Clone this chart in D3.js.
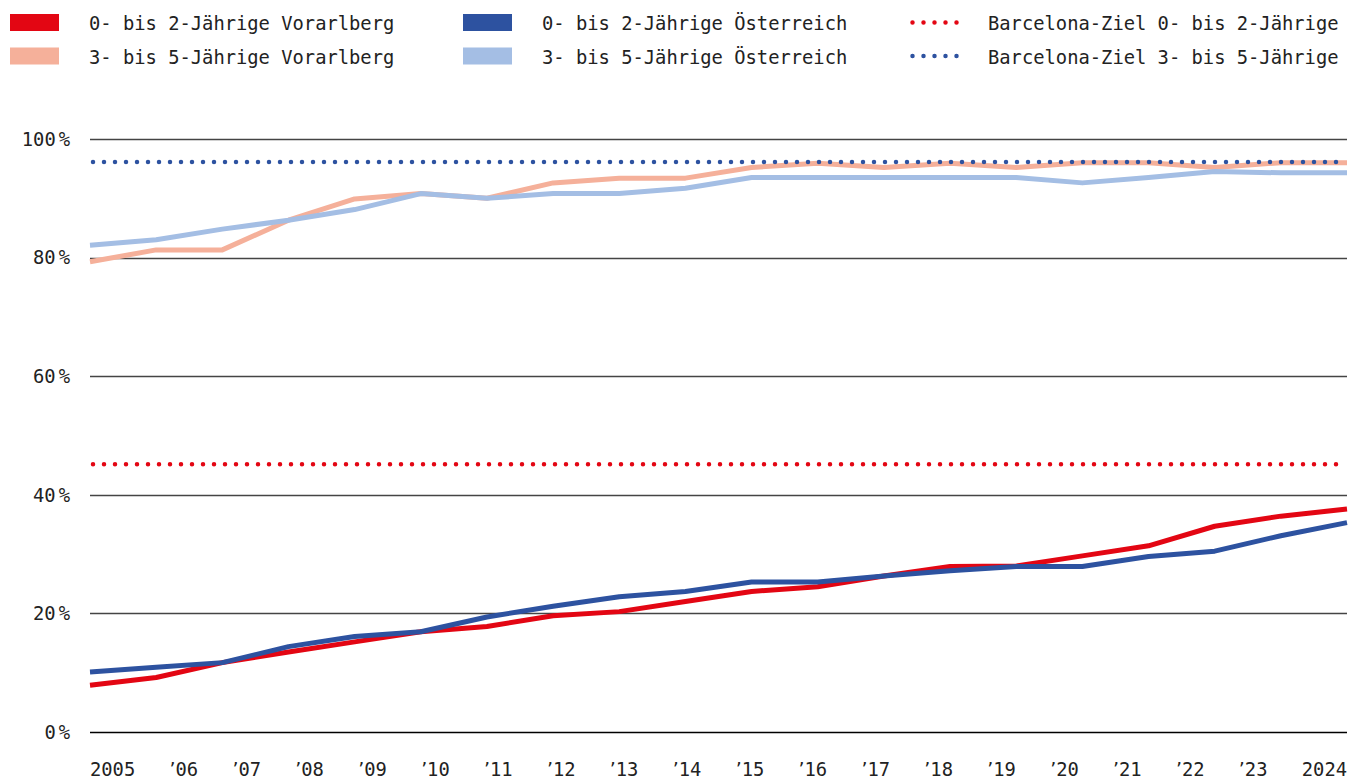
<!DOCTYPE html>
<html>
<head>
<meta charset="utf-8">
<script src="https://cdn.jsdelivr.net/npm/d3@7"></script>
<style>
	body { margin: 0; background: #fff; }
	svg text { font-family: "DejaVu Sans Mono", "Liberation Mono", monospace; font-size: 18.8px; fill: #222; }
	svg tspan.apo { font-family: "DejaVu Sans", sans-serif; }
</style>
</head>
<body>
<svg id="chart"></svg>
<script>
// years and tick labels
var years = d3.range(2005, 2025);
var yearLabels = ['2005', '06', '07', '08', '09', '10', '11', '12', '13', '14',
	'15', '16', '17', '18', '19', '20', '21', '22', '23', '2024'];
var yTicks = [0, 20, 40, 60, 80, 100];

// Betreuungsquoten in Prozent
var vbg02 = [7.9, 9.2, 11.7, 13.5, 15.2, 16.9, 17.8, 19.6, 20.3, 22.0,
	23.7, 24.5, 26.3, 27.9, 28.0, 29.7, 31.4, 34.7, 36.4, 37.6];
var vbg35 = [79.3, 81.3, 81.3, 86.3, 89.9, 90.8, 90.0, 92.6, 93.4, 93.4,
	95.2, 95.9, 95.2, 95.9, 95.2, 96.0, 96.0, 95.2, 96.0, 96.0];
var oe02 = [10.1, 10.9, 11.7, 14.4, 16.1, 16.9, 19.4, 21.2, 22.8, 23.7,
	25.3, 25.3, 26.3, 27.2, 27.9, 27.9, 29.6, 30.5, 33.1, 35.3];
var oe35 = [82.1, 83.0, 84.8, 86.3, 88.1, 90.8, 90.0, 90.8, 90.8, 91.7,
	93.5, 93.5, 93.5, 93.5, 93.5, 92.6, 93.5, 94.5, 94.3, 94.3];
var zielWerte = [45, 96];

var series = [
	{ name: '3- bis 5-Jährige Vorarlberg', values: vbg35, color: '#f5b09a' },
	{ name: '3- bis 5-Jährige Österreich', values: oe35, color: '#a4bee4' },
	{ name: '0- bis 2-Jährige Vorarlberg', values: vbg02, color: '#e30613' },
	{ name: '0- bis 2-Jährige Österreich', values: oe02, color: '#2d52a0' }
];
var ziele = [
	{ name: 'Barcelona-Ziel 0- bis 2-Jährige', value: zielWerte[0], color: '#e30613' },
	{ name: 'Barcelona-Ziel 3- bis 5-Jährige', value: zielWerte[1], color: '#2d52a0' }
];

var width = 1350, height = 780;
var plot = { left: 90, right: 1347, top: 139, bottom: 732 };

var svg = d3.select('#chart').attr('width', width).attr('height', height);

var x = d3.scaleLinear().domain([2005, 2024]).range([plot.left, plot.right]);
var y = d3.scaleLinear().domain([0, 100]).range([plot.bottom, plot.top]);

// grid
svg.append('g').selectAll('line')
	.data(yTicks)
	.join('line')
	.attr('x1', plot.left).attr('x2', plot.right)
	.attr('y1', function (d) { return Math.round(y(d)) + 0.5; })
	.attr('y2', function (d) { return Math.round(y(d)) + 0.5; })
	.attr('stroke', function (d) { return d === 0 ? '#000' : '#444'; })
	.attr('stroke-width', 1.3);

// y labels
var yLab = svg.append('g').selectAll('text')
	.data(yTicks)
	.join('text')
	.attr('x', 70)
	.attr('y', function (d) { return y(d); })
	.attr('dy', '0.36em')
	.attr('text-anchor', 'end');
yLab.append('tspan').text(function (d) { return d; });
yLab.append('tspan').attr('dx', 3).text('%');

// lines
var line = d3.line()
	.x(function (d, i) { return x(years[i]); })
	.y(function (d) { return y(d); });

svg.append('g').selectAll('path')
	.data(series)
	.join('path')
	.attr('d', function (d) { return line(d.values); })
	.attr('fill', 'none')
	.attr('stroke', function (d) { return d.color; })
	.attr('stroke-width', 5)
	.attr('stroke-linejoin', 'round');

// Barcelona targets
svg.append('g').selectAll('line')
	.data(ziele)
	.join('line')
	.attr('x1', plot.left + 3).attr('x2', plot.right)
	.attr('y1', function (d) { return y(d.value) - 0.8; })
	.attr('y2', function (d) { return y(d.value) - 0.8; })
	.attr('stroke', function (d) { return d.color; })
	.attr('stroke-width', 4.5)
	.attr('stroke-linecap', 'round')
	.attr('stroke-dasharray', '0 11');

// x labels, spread like flex space-between
var xLab = svg.append('g').selectAll('text')
	.data(yearLabels)
	.join('text')
	.attr('y', 776);
xLab.each(function (d) {
	var t = d3.select(this);
	if (d.length === 4) {
		t.text(d);
	} else {
		t.append('tspan').attr('class', 'apo').text('\u2019');
		t.append('tspan').text(d);
	}
});
var widths = [];
xLab.each(function () { widths.push(this.getBBox().width); });
var gap = (plot.right - plot.left - d3.sum(widths)) / (widths.length - 1);
var pos = plot.left;
xLab.each(function (d, i) {
	var bx = this.getBBox().x;
	d3.select(this).attr('x', pos - bx);
	pos += widths[i] + gap;
});

// legend
var legendItems = [
	{ name: series[2].name, color: series[2].color, col: 0, row: 0, type: 'rect' },
	{ name: series[0].name, color: series[0].color, col: 0, row: 1, type: 'rect' },
	{ name: series[3].name, color: series[3].color, col: 1, row: 0, type: 'rect' },
	{ name: series[1].name, color: series[1].color, col: 1, row: 1, type: 'rect' },
	{ name: ziele[0].name, color: ziele[0].color, col: 2, row: 0, type: 'dots' },
	{ name: ziele[1].name, color: ziele[1].color, col: 2, row: 1, type: 'dots' }
];
var colX = [10, 463, 912];
var textX = [89, 542, 988];
var rowY = [22.5, 56];

var leg = svg.append('g').selectAll('g')
	.data(legendItems)
	.join('g');
leg.filter(function (d) { return d.type === 'rect'; })
	.append('rect')
	.attr('x', function (d) { return colX[d.col]; })
	.attr('y', function (d) { return rowY[d.row] - 8.5; })
	.attr('width', 49).attr('height', 17)
	.attr('fill', function (d) { return d.color; });
leg.filter(function (d) { return d.type === 'dots'; })
	.append('line')
	.attr('x1', function (d) { return colX[d.col] + 0.5; })
	.attr('x2', function (d) { return colX[d.col] + 46; })
	.attr('y1', function (d) { return rowY[d.row]; })
	.attr('y2', function (d) { return rowY[d.row]; })
	.attr('stroke', function (d) { return d.color; })
	.attr('stroke-width', 4.5)
	.attr('stroke-linecap', 'round')
	.attr('stroke-dasharray', '0 11');
leg.append('text')
	.attr('x', function (d) { return textX[d.col]; })
	.attr('y', function (d) { return rowY[d.row] + 7.5; })
	.text(function (d) { return d.name; });
</script>
</body>
</html>
